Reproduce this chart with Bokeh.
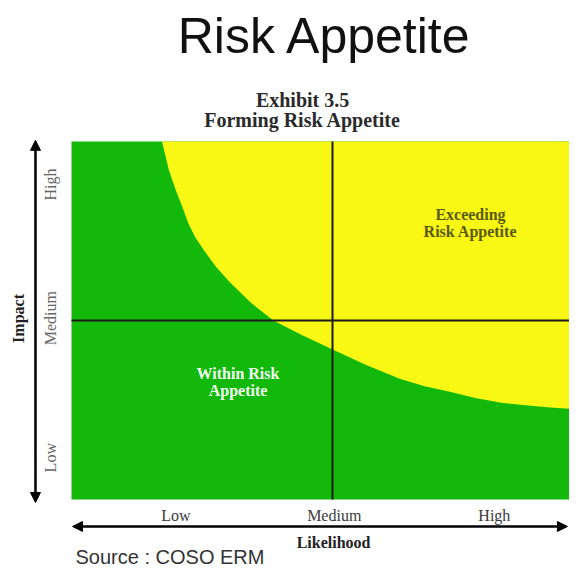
import math
from bokeh.plotting import figure
from bokeh.models import Range1d, Arrow, NormalHead
from bokeh.core.properties import value
from bokeh.embed import file_html
from bokeh.resources import INLINE

# ---- data ----
likelihood_labels = ["Low", "Medium", "High"]
likelihood_label_pos = [0.60, 1.51, 2.43]
impact_labels = ["Low", "Medium", "High"]
impact_label_pos = [0.35, 1.52, 2.64]

# boundary between "within" and "exceeding" appetite (likelihood, impact)
boundary_likelihood = [0.52, 0.54, 0.56, 0.60, 0.64, 0.67, 0.71, 0.76, 0.83, 0.91, 1.03,
                       1.16, 1.32, 1.51, 1.69, 1.89, 2.03, 2.18, 2.32, 2.47, 2.61, 2.75, 3.00]
boundary_impact = [3.00, 2.88, 2.76, 2.59, 2.44, 2.32, 2.20, 2.09, 1.95, 1.82, 1.65,
                   1.50, 1.38, 1.25, 1.13, 1.01, 0.95, 0.90, 0.85, 0.81, 0.79, 0.77, 0.75]

grid_max = 3.0
grid_mid = 1.5

GREEN = "#12b80a"
YELLOW = "#f9f714"

serif = value("Liberation Serif")
sans = value("Liberation Sans")

p = figure(width=569, height=569, output_backend="svg", toolbar_location=None,
           x_range=Range1d(-0.408, 2.862), y_range=Range1d(-0.5866, 4.1816),
           x_axis_type=None, y_axis_type=None, min_border=0,
           outline_line_color=None, background_fill_color="white",
           border_fill_color="white")
p.grid.visible = False

# regions
p.quad(left=[0], right=[grid_max], bottom=[0], top=[grid_max],
       fill_color=GREEN, line_color=None)
p.patch(x=boundary_likelihood + [grid_max], y=boundary_impact + [grid_max],
        fill_color=YELLOW, line_color=None)

# quadrant dividers
p.segment(x0=[grid_mid, 0], y0=[0, grid_mid], x1=[grid_mid, grid_max], y1=[grid_max, grid_mid],
          line_color="#1a1a1a", line_width=2)

# axis arrows
for (xs, ys, xe, ye) in [(-0.207, 3.01, -0.207, -0.025), (0.006, -0.226, 2.85, -0.226)]:
    p.add_layout(Arrow(start=NormalHead(size=10, fill_color="black", line_color="black"),
                       end=NormalHead(size=10, fill_color="black", line_color="black"),
                       x_start=xs, y_start=ys, x_end=xe, y_end=ye,
                       line_color="black", line_width=2.5))

# tick labels
p.text(x=likelihood_label_pos, y=[-0.134] * 3, text=likelihood_labels,
       text_font=serif, text_font_size="16px", text_color="#3a3a3a",
       text_align="center", text_baseline="alphabetic")
p.text(x=[-0.121] * 3, y=impact_label_pos, text=impact_labels, angle=math.pi / 2,
       text_font=serif, text_font_size="16px", text_color="#666666",
       text_align="center", text_baseline="middle")

# axis titles
p.text(x=[1.506], y=[-0.360], text=["Likelihood"], text_font=serif, text_font_style="bold",
       text_font_size="16px", text_color="#222222", text_align="center", text_baseline="alphabetic")
p.text(x=[-0.305], y=[1.517], text=["Impact"], angle=math.pi / 2, text_font=serif,
       text_font_style="bold", text_font_size="16px", text_color="#222222",
       text_align="center", text_baseline="middle")

# region labels
p.text(x=[2.293, 2.293], y=[2.388, 2.246], text=["Exceeding", "Risk Appetite"],
       text_font=serif, text_font_style="bold", text_font_size="16px", text_color="#5a5a0a",
       text_align="center", text_baseline="alphabetic")
p.text(x=[0.957, 0.957], y=[1.056, 0.913], text=["Within Risk", "Appetite"],
       text_font=serif, text_font_style="bold", text_font_size="16px", text_color="#f0fff0",
       text_align="center", text_baseline="alphabetic")

# titles
p.text(x=[1.457], y=[3.888], text=["Risk Appetite"], text_font=sans, text_font_size="50px",
       text_color="#111111", text_align="center", text_baseline="alphabetic")
p.text(x=[1.328, 1.328], y=[3.349, 3.181], text=["Exhibit 3.5", "Forming Risk Appetite"],
       text_font=serif, text_font_style="bold", text_font_size="20px", text_color="#2a2a2a",
       text_align="center", text_baseline="alphabetic")

# source
p.text(x=[0.023], y=[-0.478], text=["Source : COSO ERM"], text_font=sans,
       text_font_size="20px", text_color="#333333", text_align="left", text_baseline="alphabetic")

open("out.html", "w").write(file_html(p, INLINE))
